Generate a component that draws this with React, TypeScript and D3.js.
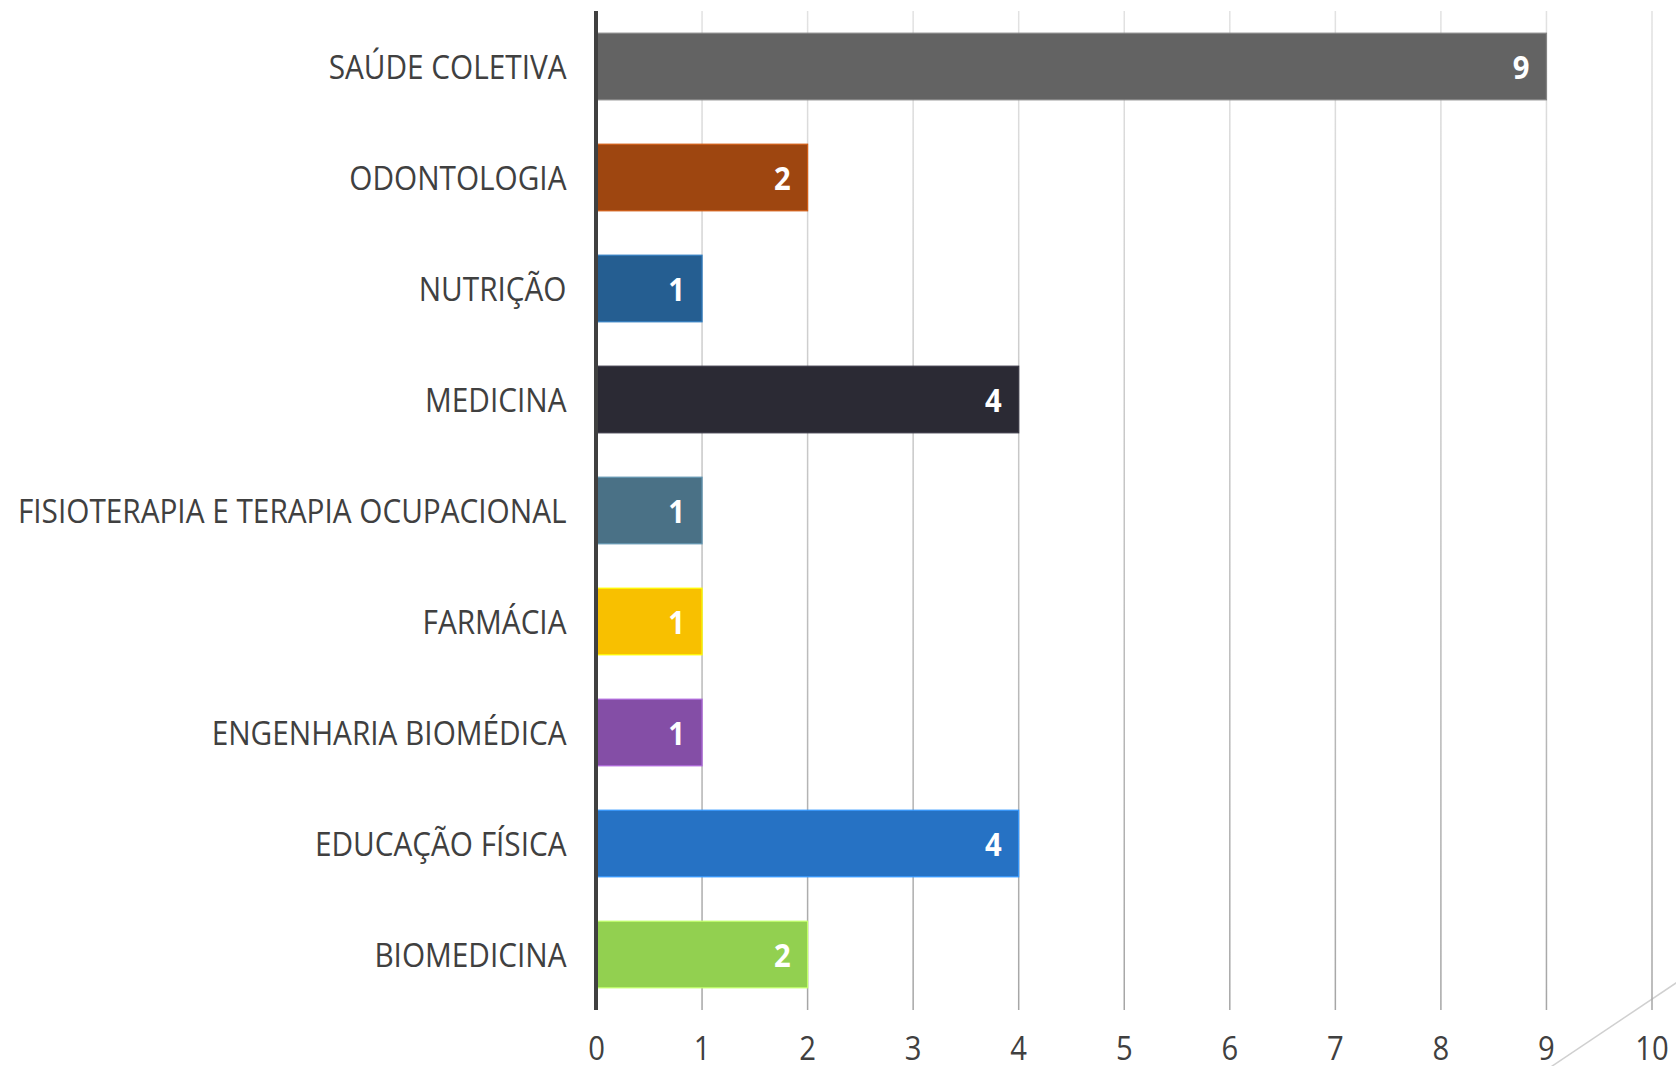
import React from "react";
import * as d3 from "d3";

const categories = [
  "SAÚDE COLETIVA",
  "ODONTOLOGIA",
  "NUTRIÇÃO",
  "MEDICINA",
  "FISIOTERAPIA E TERAPIA OCUPACIONAL",
  "FARMÁCIA",
  "ENGENHARIA BIOMÉDICA",
  "EDUCAÇÃO FÍSICA",
  "BIOMEDICINA",
];
const values = [9, 2, 1, 4, 1, 1, 1, 4, 2];
const barColors = [
  "#636363",
  "#9E4610",
  "#255E91",
  "#2B2A34",
  "#4A7186",
  "#F8C000",
  "#844EA6",
  "#2672C4",
  "#92D050",
];
const xTicks = [0, 1, 2, 3, 4, 5, 6, 7, 8, 9, 10];

const W = 1676;
const H = 1066;
const FONT = "'Open Sans', sans-serif";
const SX = 0.885;
const SX_LABEL = 0.902;

export default function App() {
  const x = d3.scaleLinear().domain([0, 10]).range([596.5, 1652]);
  const y = d3
    .scaleBand<string>()
    .domain(categories)
    .range([11, 1010])
    .paddingInner(0.4)
    .paddingOuter(0.2);
  const bw = y.bandwidth();

  return (
    <svg
      width={W}
      height={H}
      style={{ position: "absolute", left: 0, top: 0, display: "block", background: "#fff" }}
    >
      <defs>
        <linearGradient id="gridGrad" gradientUnits="userSpaceOnUse" x1="0" y1="11" x2="0" y2="1010">
          <stop offset="0" stopColor="#e2e2e2" />
          <stop offset="1" stopColor="#a6a6a6" />
        </linearGradient>
      </defs>
      {/* decorative diagonal */}
      <line x1={1541.8} y1={1073} x2={1690} y2={973.6} stroke="#d0d0d0" strokeWidth={1.5} />
      {/* gridlines */}
      {xTicks.slice(1).map((t) => (
        <rect key={t} x={x(t) - 0.75} y={11} width={1.5} height={999} fill="url(#gridGrad)" />
      ))}
      {/* bars */}
      {categories.map((c, i) => {
        const y0 = y(c) as number;
        const fill = barColors[i];
        const stroke = d3.color(fill)!.brighter(0.8).formatHex();
        return (
          <g key={c}>
            <rect
              x={x(0)}
              y={y0}
              width={x(values[i]) - x(0)}
              height={bw}
              fill={fill}
              stroke={stroke}
              strokeWidth={1.2}
            />
            <text
              transform={`translate(${x(values[i]) - 17},${y0 + bw / 2 + 12}) scale(${SX},1)`}
              textAnchor="end"
              fontFamily={FONT}
              fontWeight={700}
              fontSize={33}
              fill="#fff"
            >
              {values[i]}
            </text>
            <text
              transform={`translate(${x(0) - 30},${y0 + bw / 2 + 12}) scale(${SX_LABEL},1)`}
              textAnchor="end"
              fontFamily={FONT}
              fontSize={33}
              fill="#404040"
            >
              {c}
            </text>
          </g>
        );
      })}
      {/* axis line */}
      <line x1={596} y1={11} x2={596} y2={1010} stroke="#404040" strokeWidth={4} />
      {/* tick labels */}
      {xTicks.map((t) => (
        <text
          key={t}
          transform={`translate(${x(t)},1060) scale(${SX},1)`}
          textAnchor="middle"
          fontFamily={FONT}
          fontSize={33}
          fill="#404040"
        >
          {t}
        </text>
      ))}
    </svg>
  );
}
